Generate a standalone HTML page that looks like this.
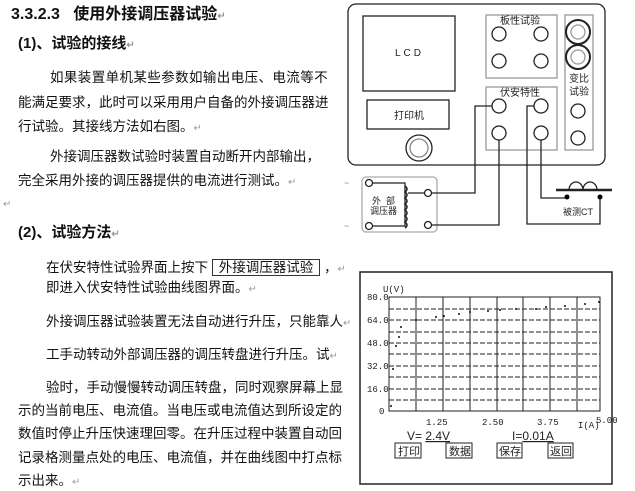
<!DOCTYPE html>
<html><head><meta charset="utf-8"><style>
body{margin:0;width:635px;height:489px;background:#fff;position:relative;overflow:hidden;font-family:"Liberation Sans","Noto Sans CJK SC",sans-serif;color:#111}
.t{position:absolute;white-space:nowrap;font-size:13.5px;line-height:16px}
.b{font-weight:bold}
.m{color:#999;font-size:10px}
</style></head><body>
<div class="t b" style="left:11px;top:7px;font-size:16px">3.3.2.3&nbsp;&nbsp;&nbsp;使用外接调压器试验<span class="m">↵</span></div>
<div class="t b" style="left:18px;top:36px;font-size:15px">(1)、试验的接线<span class="m">↵</span></div>
<div class="t" style="left:50px;top:70px;letter-spacing:0.4px">如果装置单机某些参数如输出电压、电流等不</div>
<div class="t" style="left:18px;top:95px">能满足要求，此时可以采用用户自备的外接调压器进</div>
<div class="t" style="left:18px;top:119px">行试验。其接线方法如右图。<span class="m">↵</span></div>
<div class="t" style="left:50px;top:149px">外接调压器数试验时装置自动断开内部输出，</div>
<div class="t" style="left:18px;top:173px">完全采用外接的调压器提供的电流进行测试。<span class="m">↵</span></div>
<div class="t m" style="left:3px;top:197px">↵</div>
<div class="t b" style="left:18px;top:225px;font-size:15px">(2)、试验方法<span class="m">↵</span></div>
<div class="t" style="left:46px;top:260px">在伏安特性试验界面上按下 <span style="border:1px solid #333;padding:0 6px">外接调压器试验</span> ，<span class="m">↵</span></div>
<div class="t" style="left:46px;top:280px">即进入伏安特性试验曲线图界面。<span class="m">↵</span></div>
<div class="t" style="left:46px;top:314px">外接调压器试验装置无法自动进行升压，只能靠人<span class="m">↵</span></div>
<div class="t" style="left:46px;top:347px">工手动转动外部调压器的调压转盘进行升压。试<span class="m">↵</span></div>
<div class="t" style="left:46px;top:380px">验时，手动慢慢转动调压转盘，同时观察屏幕上显</div>
<div class="t" style="left:18px;top:403px">示的当前电压、电流值。当电压或电流值达到所设定的</div>
<div class="t" style="left:18px;top:426px">数值时停止升压快速理回零。在升压过程中装置自动回</div>
<div class="t" style="left:18px;top:450px">记录格测量点处的电压、电流值，并在曲线图中打点标</div>
<div class="t" style="left:18px;top:473px">示出来。<span class="m">↵</span></div>

<svg width="635" height="489" style="position:absolute;left:0;top:0" font-family="Liberation Sans,Noto Sans CJK SC,sans-serif">
<g fill="none" stroke="#222" stroke-width="1.3">
<rect x="348" y="4" width="257" height="161" rx="8"/>
<rect x="363" y="16" width="92" height="75"/>
<rect x="367" y="100" width="82" height="29"/>
<circle cx="419" cy="148" r="13"/><circle cx="419" cy="148" r="9" stroke="#888"/>
<rect x="486" y="15" width="71" height="63" stroke="#999"/>
<rect x="486" y="87" width="71" height="63" stroke="#999"/>
<rect x="565" y="15" width="28" height="135" stroke="#999"/>
<circle cx="499" cy="34" r="7"/><circle cx="541" cy="34" r="7"/><circle cx="499" cy="61" r="7"/><circle cx="541" cy="61" r="7"/>
<circle cx="499" cy="106" r="7"/><circle cx="541" cy="106" r="7"/><circle cx="499" cy="133" r="7"/><circle cx="541" cy="133" r="7"/>
<circle cx="578" cy="32" r="12" stroke-width="2"/><circle cx="578" cy="32" r="7" stroke="#999"/>
<circle cx="578" cy="57" r="12" stroke-width="2"/><circle cx="578" cy="57" r="7" stroke="#999"/>
<circle cx="578" cy="111" r="7"/><circle cx="578" cy="138" r="7"/>
<rect x="362" y="177" width="75" height="55" rx="4" stroke="#aaa"/>
<circle cx="369" cy="183" r="3.5"/><circle cx="369" cy="226" r="3.5"/><circle cx="428" cy="193" r="3.5"/><circle cx="428" cy="225" r="3.5"/>
<polyline points="372,183 405,183 405,226 372,226"/>
<path d="M405,186 q4,3 0,6 q4,3 0,6 q4,3 0,6 q4,3 0,6 q4,3 0,6 q4,3 0,6 q4,3 0,6" stroke-width="1.5"/>
<line x1="408" y1="193" x2="425" y2="193"/>
<polyline points="492,106 475,106 475,193 431,193"/>
<polyline points="499,140 499,225 431,225"/>
<polyline points="534,106 527,106 527,224 600,224 600,197"/>
<polyline points="541,140 541,198 567,198"/>
<line x1="556" y1="190" x2="612" y2="190" stroke-width="2.5"/>
<path d="M569,190 a7,8 0 0 1 14,0 a7,8 0 0 1 14,0" stroke-width="1.3"/>
</g>
<circle cx="567" cy="197" r="2.5"/><circle cx="600" cy="197" r="2.5"/>
<g font-size="10" fill="#222">
<text x="395" y="56" font-size="10" letter-spacing="3">LCD</text>
<text x="394" y="119">打印机</text>
<text x="500" y="24">板性试验</text>
<text x="500" y="96">伏安特性</text>
<text x="569" y="82">变比</text><text x="569" y="95">试验</text>
<text x="372" y="204" font-size="9">外&#160;&#160;部</text>
<text x="370" y="214" font-size="9">调压器</text>
<text x="563" y="215" font-size="9">被测CT</text>
<text x="344" y="186" font-size="9" fill="#888">~</text>
<text x="344" y="229" font-size="9" fill="#888">~</text>
</g>

<rect x="360" y="272" width="252" height="212" fill="none" stroke="#222" stroke-width="1.5"/>
<g stroke="#222" stroke-width="1" fill="none">
<rect x="389" y="297" width="211" height="114"/>
<g stroke-dasharray="5,2">
<line x1="389" y1="309" x2="600" y2="309"/><line x1="389" y1="320" x2="600" y2="320"/><line x1="389" y1="332" x2="600" y2="332"/>
<line x1="389" y1="343" x2="600" y2="343"/><line x1="389" y1="354" x2="600" y2="354"/><line x1="389" y1="366" x2="600" y2="366"/>
<line x1="389" y1="377" x2="600" y2="377"/><line x1="389" y1="389" x2="600" y2="389"/><line x1="389" y1="400" x2="600" y2="400"/>
</g>
<line x1="416" y1="297" x2="416" y2="411"/><line x1="443" y1="297" x2="443" y2="411"/><line x1="470" y1="297" x2="470" y2="411"/>
<line x1="497" y1="297" x2="497" y2="411"/><line x1="523" y1="297" x2="523" y2="411"/><line x1="550" y1="297" x2="550" y2="411"/><line x1="577" y1="297" x2="577" y2="411"/>
</g>
<g fill="#111">
<circle cx="391" cy="406" r="1"/><circle cx="393" cy="369" r="1"/><circle cx="396" cy="346" r="1"/><circle cx="399" cy="337" r="1"/><circle cx="401" cy="327" r="1"/><circle cx="416" cy="320" r="1"/><circle cx="436" cy="317" r="1"/><circle cx="444" cy="316" r="1"/><circle cx="459" cy="314" r="1"/><circle cx="470" cy="312" r="1"/><circle cx="488" cy="311" r="1"/><circle cx="500" cy="310" r="1"/><circle cx="516" cy="309" r="1"/><circle cx="536" cy="309" r="1"/><circle cx="546" cy="307" r="1"/><circle cx="565" cy="306" r="1"/><circle cx="585" cy="304" r="1"/><circle cx="599" cy="302" r="1"/>
</g>
<g font-family="Liberation Mono,monospace" font-size="9" fill="#222">
<text x="383" y="292">U(V)</text>
<text x="367" y="300">80.0</text><text x="367" y="323">64.0</text><text x="367" y="346">48.0</text>
<text x="367" y="369">32.0</text><text x="367" y="392">16.0</text><text x="379" y="414">0</text>
<text x="426" y="425">1.25</text><text x="482" y="425">2.50</text><text x="537" y="425">3.75</text>
<text x="578" y="428">I(A)</text><text x="596" y="423">5.00</text>
</g>
<g font-size="12" fill="#222">
<text x="407" y="440">V= <tspan text-decoration="underline">2.4V</tspan></text>
<text x="512" y="440">I=<tspan text-decoration="underline">0.01A</tspan></text>
</g>
<g fill="none" stroke="#222"><rect x="395" y="443" width="26" height="15"/><rect x="446" y="443" width="26" height="15"/><rect x="497" y="443" width="25" height="15"/><rect x="548" y="443" width="25" height="15"/></g>
<g font-size="11" fill="#222"><text x="398" y="455">打印</text><text x="449" y="455">数据</text><text x="499" y="455">保存</text><text x="550" y="455">返回</text></g>
</svg>
</body></html>
